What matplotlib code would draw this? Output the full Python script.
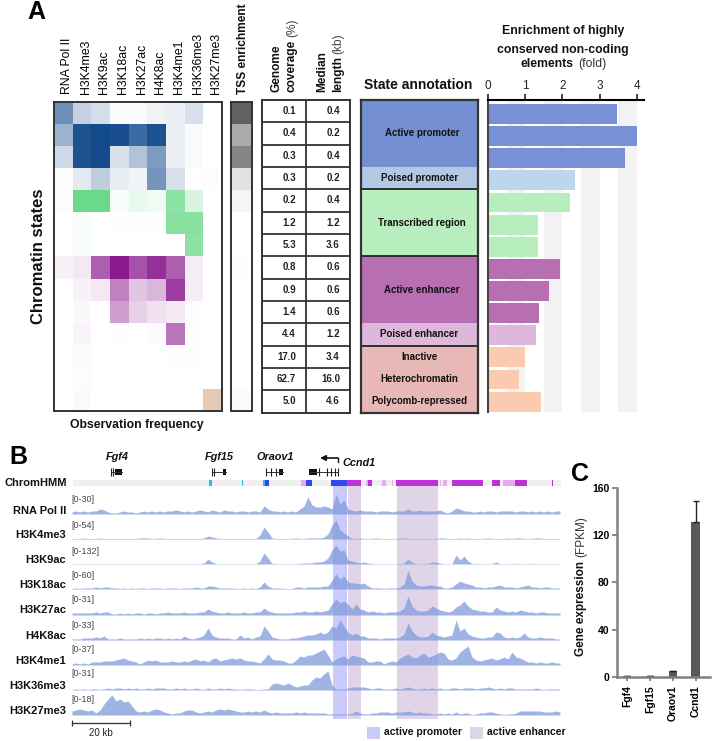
import numpy as np
import matplotlib
matplotlib.use("Agg")
import matplotlib.pyplot as plt
from matplotlib.colors import LinearSegmentedColormap
from matplotlib.patches import Rectangle

plt.rcParams['font.family'] = ['Liberation Sans', 'DejaVu Sans']

W, H = 713, 741
marks = ["RNA Pol II", "H3K4me3", "H3K9ac", "H3K18ac", "H3K27ac", "H4K8ac", "H3K4me1", "H3K36me3", "H3K27me3"]
freq_blue = [[.62, .25, .18, .03, .02, .07, .08, .17, 0],
             [.42, .95, 1, .97, .82, .95, .08, .03, 0],
             [.20, .95, 1, .17, .33, .55, .08, .03, 0],
             [.01, .12, .27, .10, .06, .58, .17, 0, .01]]
freq_green = [[.03, 1, 1, .05, .15, .10, .75, .25, 0],
              [0, .05, 0, .01, .01, .01, .80, .80, 0],
              [0, .04, 0, 0, 0, 0, 0, .75, 0]]
freq_purple = [[.06, .10, .70, 1, .75, .90, .70, .08, 0],
               [0, .06, .10, .55, .25, .32, .85, .08, 0],
               [0, .03, 0, .42, .20, .13, .09, .01, 0],
               [0, .05, 0, .01, 0, .02, .60, .01, 0]]
freq_beige = [[0, .07, 0, 0, 0, 0, .03, .01, 0],
              [0, .04, 0, 0, 0, 0, 0, 0, 0],
              [0, .10, 0, 0, 0, 0, 0, 0, 1]]
tss = [.62, .33, .48, .12, .04, 0, 0, .01, 0, 0, 0, 0, 0, .02]
coverage = ["0.1", "0.4", "0.3", "0.3", "0.2", "1.2", "5.3", "0.8", "0.9", "1.4", "4.4", "17.0", "62.7", "5.0"]
median_len = ["0.4", "0.2", "0.4", "0.2", "0.4", "1.2", "3.6", "0.6", "0.6", "0.6", "1.2", "3.4", "16.0", "4.6"]
enrichment = [3.48, 4.0, 3.7, 2.33, 2.2, 1.33, 1.33, 1.93, 1.63, 1.36, 1.28, 1.0, .83, 1.42]
bar_colors = ["#7891D6"] * 3 + ["#BDD6EE"] + ["#B8EDBE"] * 3 + ["#B86EB3"] * 3 + ["#DEB8DA"] + ["#FACBAE"] * 3
annot_names = ["Active promoter", "Poised promoter", "Transcribed region", "Active enhancer", "Poised enhancer",
               "Inactive", "Heterochromatin", "Polycomb-repressed"]
annot_rows = [3, 1, 3, 3, 1, 1, 1, 1]
annot_colors = ["#7590D2", "#B3C9E3", "#B8EDBE", "#B86EB3", "#DDB8DB", "#E8B8B6", "#E8B8B6", "#E8B8B6"]

track_names = marks
track_ranges = ["[0-30]", "[0-54]", "[0-132]", "[0-60]", "[0-31]", "[0-33]", "[0-37]", "[0-31]", "[0-18]"]
track_rna = [2,3,2,3,2,3,3,5,4,2, 1,1,2,3,2,2,1,2,3,2, 3,2,3,2,3,3,4,3,2,3, 2,3,4,3,2,4,3,2,4,3,
             3,2,3,3,2,3,3,2,8,5, 3,3,2,3,2,3,2,5,8,17, 9,7,7,8,7,5,20,10,14,5, 4,3,4,3,3,3,2,3,3,3,
             2,3,3,3,5,3,3,4,3,3, 3,3,4,2,1,3,6,5,3,3, 2,2,3,2,3,3,2,3,3,3, 3,2,3,3,2,3,2,3,2,3, 2,3,3]
track_k4me3 = [.5,.5,.5,1,.5,.5,.5,1,.5,.5, .5,.5,.5,.5,.5,.5,.5,1,1,1, .5,.5,1,.5,.5,.5,.5,.5,.5,.5, .5,.5,.5,1,3,2,1,.5,.5,.5,
               .5,.5,.5,.5,.5,.5,.5,4,12,7, 1,.5,.5,.5,.5,.5,1,.5,.5,1, 1,1,1,2,5,14,19,9,6,3, .5,.5,1,.5,.5,.5,1,.5,.5,.5,
               .5,.5,1,1,.5,.5,.5,.5,.5,.5, .5,.5,1,1,.5,.5,.5,1,.5,1, .5,.5,.5,.5,1,.5,.5,.5,.5,1, .5,1,1,.5,.5,.5,1,1,.5,.5, .5,.5,.5]
track_k9ac = [.3,.3,.3,.3,.3,.3,.3,.3,.3,.3, .3,.3,.3,.3,.3,.3,.3,.3,.3,.3, .3,.3,.3,.3,.3,.3,.3,.3,.3,.3, .3,.3,.3,1,5,2,.5,.3,.3,.3,
              .3,.3,.3,.3,.3,.3,.3,3,11,6, .5,.3,.3,.3,.3,.3,.5,.5,1,1, 1,2,2,3,6,14,19,13,14,4, 3,2,1,2,1,.5,.3,.3,.3,.3,
              .3,.3,.3,1,5,2,.3,.3,.3,.5, 2,2,1,.3,.3,.3,9,4,8,3, .5,.5,.3,.3,.3,.3,2,.3,.3,.3, .3,.5,.3,.3,.3,.5,.3,.3,.3,.3, .3,.3,.3]
track_k18ac = [.5,1,.5,1,1,1,2,1,2,2, 1,1,.5,1,.5,1,.5,1,1,.5, 1,1,1,.5,1,1,1,.5,1,1, 1,2,1,1,3,3,2,1,1,1,
               1,.5,.5,1,.5,1,.5,2,7,3, 1,1,1,.5,.5,.5,2,2,1,2, 2,2,2,3,3,9,15,10,13,7, 6,6,5,6,3,1,1,1,.5,1,
               1,1,2,5,19,8,4,3,3,4, 4,3,3,1,1,2,5,8,6,5, 4,2,2,1,2,2,3,4,2,2, 2,1,2,3,4,2,2,1,2,2, 1,1,1]
track_k27ac = [2,2,2,2,2,2,3,2,3,3, 1,1,2,1,2,1,2,2,1,2, 2,1,2,2,3,2,2,2,3,2, 2,2,3,3,6,4,3,2,2,3,
               2,2,2,3,2,2,3,3,7,4, 3,2,2,2,2,2,3,3,4,3, 3,4,3,4,5,11,16,12,14,11, 6,11,6,5,3,4,3,3,2,3,
               3,3,4,7,19,9,5,4,4,5, 9,7,5,4,3,4,8,10,14,9, 6,5,4,4,3,3,8,5,4,3, 4,3,5,4,3,3,2,3,3,2, 2,2,2]
track_k4ac = [1,1,1,2,2,2,3,2,4,1, 1,1,2,1,1,1,1,2,1,2, 1,2,2,1,2,1,2,1,4,2, 1,2,3,5,12,5,3,2,2,2,
              1,1,5,2,3,1,3,4,14,9, 3,2,1,1,1,2,2,3,4,5, 5,6,8,6,8,14,12,20,14,8, 5,7,4,4,2,2,2,1,2,2,
              2,2,3,6,17,9,5,3,3,4, 8,5,4,3,4,5,20,9,12,6, 4,3,2,2,3,3,8,7,3,2, 3,2,3,7,3,2,2,3,2,2, 2,1,1]
track_k4me1 = [1,2,1,2,1,3,3,3,4,4, 4,5,6,7,5,4,3,1,3,5, 4,5,3,3,3,4,3,3,4,3, 5,6,4,5,3,6,7,4,5,6,
               7,6,7,5,4,4,3,2,6,11, 6,5,5,4,2,2,5,9,8,10, 10,12,14,16,10,3,6,8,9,6, 10,9,8,7,3,3,4,4,1,3,
               4,3,7,9,11,8,7,10,12,8, 9,11,13,12,6,5,7,13,16,19, 8,5,4,5,6,7,5,6,8,6, 13,8,7,5,3,3,2,3,2,2, 3,2,2]
track_k36me3 = [.5,1,.5,1,.5,1,1,.5,1,2, 1,2,2,1,2,1,2,1,1,2, 1,2,2,2,1,1,2,1,2,1, 1,2,1,.5,2,1,1,2,1,2,
                1,1,.5,1,1,1,.5,.5,1,1, 6,7,6,5,7,5,3,4,5,5, 10,13,12,16,19,5,1,1,1,2, 3,3,3,3,2,1,2,2,1,1,
                1,2,1,2,3,2,1,1,2,1, 2,1,2,1,1,2,2,1,2,2, 2,1,2,2,3,2,1,2,1,2, 2,1,1,1,1,1,2,1,.5,1, 1,1,1]
track_k27me3 = [4,5,6,5,4,5,2,5,11,16, 20,14,16,13,14,9,4,3,4,3, 5,6,5,3,2,1,2,2,4,5, 5,3,2,3,4,3,5,6,5,6,
                5,4,3,3,4,3,4,3,5,3, 2,3,2,2,2,2,3,2,3,2, 2,2,2,2,1,1,1,1,1,1, 2,4,2,1,1,2,2,3,3,3,
                2,3,3,3,4,3,2,3,2,2, 1,1,2,1,2,1,3,1,2,2, .5,1,2,2,3,3,2,1,.5,1, 1,2,4,4,4,4,4,4,3,3, 3,4,3]
track_values = [track_rna, track_k4me3, track_k9ac, track_k18ac, track_k27ac, track_k4ac,
                track_k4me1, track_k36me3, track_k27me3]

hmm_start = [209, 242, 263, 265, 301, 306, 331, 347, 366, 368, 382, 392, 396, 440, 443, 452, 492, 503, 515, 552]
hmm_end   = [212, 243, 265, 269, 306, 312, 347, 361, 368, 372, 386, 393, 438, 441, 447, 483, 500, 515, 527, 553]
hmm_state = ["c", "c", "c", "b", "l", "b", "b", "m", "l", "m", "l", "l", "m", "l", "l", "m", "m", "l", "m", "m"]
hmm_colors = {"c": "#22BEF0", "b": "#2F48F0", "m": "#C030D8", "l": "#E6ACF2"}

genes = ["Fgf4", "Fgf15", "Oraov1", "Ccnd1"]
expression = [.8, .7, 4.5, 131]
expression_err = [0, 0, 0, 18]


def ax_px(x0, y0, x1, y1, **kw):
    return fig.add_axes([x0 / W, 1 - y1 / H, (x1 - x0) / W, (y1 - y0) / H], **kw)


def txt(x, y, s, **kw):
    kw.setdefault('ha', 'center')
    kw.setdefault('va', 'center')
    kw.setdefault('color', '#111111')
    return fig.text(x / W, 1 - y / H, s, **kw)


fig = plt.figure(figsize=(W / 100, H / 100), dpi=100)
bg = ax_px(0, 0, W, H)
bg.set_xlim(0, W)
bg.set_ylim(H, 0)
bg.axis('off')

# --- heat map ---
ax = ax_px(54, 102, 222, 411)
groups = [(0, freq_blue, "#124A8C"), (4, freq_green, "#6BD98A"), (7, freq_purple, "#8B1A8E"), (11, freq_beige, "#E5C9B5")]
for start, rows, col in groups:
    grid = np.ma.masked_all((14, 9))
    grid[start:start + len(rows)] = np.array(rows)
    ax.imshow(grid, cmap=LinearSegmentedColormap.from_list("c", ["white", col]), vmin=0, vmax=1,
              aspect='auto', interpolation='nearest')
ax.set_xticks([])
ax.set_yticks([])
for s in ax.spines.values():
    s.set_linewidth(1.4)
    s.set_color('#333333')
for i, m in enumerate(marks):
    txt(67 + i * 18.65, 94, m, rotation=90, va='bottom', fontsize=8.8, color='black')

# --- TSS ---
ax = ax_px(231, 102, 252, 411)
ax.imshow(np.array(tss)[:, None], cmap=LinearSegmentedColormap.from_list("g", ["white", "#000000"]), vmin=0, vmax=1,
          aspect='auto', interpolation='nearest')
ax.set_xticks([])
ax.set_yticks([])
for s in ax.spines.values():
    s.set_linewidth(1.4)
    s.set_color('#333333')
txt(243, 94, "TSS enrichment", rotation=90, va='bottom', fontsize=8.6, fontweight='bold')

# --- table ---
ax = ax_px(262, 100, 350, 412.5)
ax.set_xlim(0, 2)
ax.set_ylim(14, 0)
ax.set_xticks([])
ax.set_yticks([])
for i in range(1, 14):
    ax.axhline(i, color='#333333', lw=1.3)
ax.axvline(1, color='#333333', lw=1.3)
for s in ax.spines.values():
    s.set_linewidth(1.4)
    s.set_color('#333333')
for i, (c, m) in enumerate(zip(coverage, median_len)):
    ax.text(0.77, i + .5, c, ha='right', va='center', fontsize=7, fontweight='bold', color='#222222')
    ax.text(1.77, i + .5, m, ha='right', va='center', fontsize=7, fontweight='bold', color='#222222')
txt(276, 92, "Genome", rotation=90, va='bottom', fontsize=8.6, fontweight='bold')
txt(292, 92, "coverage", rotation=90, va='bottom', fontsize=8.6, fontweight='bold')
txt(292, 37, "(%)", rotation=90, va='bottom', fontsize=8.6, color='#444444')
txt(322, 92, "Median", rotation=90, va='bottom', fontsize=8.6, fontweight='bold')
txt(338, 92, "length", rotation=90, va='bottom', fontsize=8.6, fontweight='bold')
txt(338, 54, "(kb)", rotation=90, va='bottom', fontsize=8.6, color='#444444')

# --- state annotation ---
ax = ax_px(361, 100, 478, 412.5)
ax.set_xlim(0, 1)
ax.set_ylim(14, 0)
ax.set_xticks([])
ax.set_yticks([])
top = 0
for name, n, col in zip(annot_names, annot_rows, annot_colors):
    ax.add_patch(Rectangle((0, top), 1, n, fc=col, ec='none'))
    ax.text(.52 if n == 3 else .5, top + n / 2, name, ha='center', va='center', fontsize=7, fontweight='bold', color='#111111')
    top += n
for y in (4, 7, 11):
    ax.axhline(y, color='#222222', lw=1.3)
for s in ax.spines.values():
    s.set_linewidth(1.6)
    s.set_color('#333333')
txt(418, 85, "State annotation", fontsize=10, fontweight='bold')

# --- enrichment bars ---
ax = ax_px(488.3, 100, 644, 412)
ax.set_xlim(0, 4.2)
ax.set_ylim(13.47, -.633)
for b0 in (.5, 1.5, 2.5, 3.5):
    ax.axvspan(b0, b0 + .5, color='#F2F2F2', lw=0, zorder=0)
ax.barh(range(14), enrichment, height=.9, color=bar_colors, zorder=2)
ax.xaxis.tick_top()
ax.set_xticks(range(5))
ax.tick_params(axis='x', length=4, width=1.2, pad=2, labelsize=8.5, color='#222222', labelcolor='#222222')
ax.set_yticks([])
ax.spines['right'].set_visible(False)
ax.spines['bottom'].set_visible(False)
ax.spines['top'].set_linewidth(1.5)
ax.spines['left'].set_linewidth(1.5)
ax.spines['left'].set_color('#444444')
txt(563, 31, "Enrichment of highly", fontsize=8.8, fontweight='bold')
txt(563, 49.5, "conserved non-coding", fontsize=8.8, fontweight='bold')
txt(547, 64, "elements", fontsize=8.8, fontweight='bold')
txt(592, 64, "(fold)", fontsize=8.8, color='#333333')

txt(36, 12, "A", fontsize=18, fontweight='bold', color='black')
txt(39, 256, "Chromatin states", rotation=90, fontsize=12, fontweight='bold')
txt(137, 425, "Observation frequency", fontsize=8.8, fontweight='bold')

# --- panel B ---
bg.add_patch(Rectangle((333, 485), 14, 234, fc="#C9CBFA", ec='none'))
bg.add_patch(Rectangle((347.7, 485), 13.5, 234, fc="#E0D4E9", ec='none'))
bg.add_patch(Rectangle((397, 485), 41, 234, fc="#E0D4E9", ec='none'))

bg.add_patch(Rectangle((73, 480), 488, 6, fc="#EFEFEF", ec='none'))
for a, b, st in zip(hmm_start, hmm_end, hmm_state):
    bg.add_patch(Rectangle((a, 480), b - a, 6, fc=hmm_colors[st], ec='none'))

baselines = [514, 539, 564, 589, 615, 640, 665, 690, 715]
label_y = [511, 535, 560, 585, 610, 636, 661, 686, 711]
range_y = [499, 525, 551, 576, 600, 625, 650, 674, 699]
for name, rng, vals, bl, ly, ry in zip(track_names, track_ranges, track_values, baselines, label_y, range_y):
    ax = ax_px(72, bl - 26, 560, bl, facecolor='none')
    ax.set_xlim(0, 488)
    ax.set_ylim(0, 26)
    ax.axis('off')
    ax.fill_between(np.arange(len(vals)) * 4, vals, 0, color="#7F9BDC", alpha=.75, lw=0)
    ax.axhline(.3, color="#A8B6D8", lw=.8)
    txt(66, ly, name, ha='right', fontsize=8, fontweight='bold')
    txt(71, ry, rng, ha='left', fontsize=6.5, color='#444444')

txt(67, 483, "ChromHMM", ha='right', fontsize=8, fontweight='bold')
txt(9, 457, "B", ha='left', fontsize=18, fontweight='bold', color='black')
for gx, gy, g in [(117, 457, "Fgf4"), (219, 457, "Fgf15"), (275, 457, "Oraov1"), (359, 463, "Ccnd1")]:
    txt(gx, gy, g, fontsize=7.8, fontweight='bold', style='italic')

# gene models
gene_spans = [(111, 122), (212, 226), (266, 283), (309, 338)]
gene_blocks = [(115, 122), (223, 226), (279, 283), (309, 317)]
gene_ticks = [[111, 113], [212, 214], [266, 271, 276], [319, 327, 331, 335, 338]]
for (a, b), (c, d), tk in zip(gene_spans, gene_blocks, gene_ticks):
    bg.plot([a, b], [471.5, 471.5], color='#333333', lw=.7)
    bg.add_patch(Rectangle((c, 468.5), d - c, 6, fc='#111111', ec='none'))
    bg.vlines(tk, 467.5, 475.5, color='#222222', lw=.8)
bg.plot([338, 338], [462, 458], color='#111111', lw=1)
bg.annotate("", xy=(320, 458), xytext=(338, 458), arrowprops=dict(arrowstyle='-|>', color='#111111', lw=1.2, shrinkA=0, shrinkB=0, mutation_scale=8))

# scale bar
bg.plot([72, 130], [722.6, 722.6], color='#333333', lw=.9)
bg.vlines([72, 130], 719.5, 726, color='#333333', lw=.9)
txt(101, 733, "20 kb", fontsize=7, color='#222222')

# legend
bg.add_patch(Rectangle((367, 727), 13, 12, fc="#C9CBFA", ec='none'))
bg.add_patch(Rectangle((470, 727), 13, 12, fc="#E0D4E9", ec='none'))
txt(384, 732, "active promoter", ha='left', fontsize=7.5, fontweight='bold')
txt(487, 732, "active enhancer", ha='left', fontsize=7.5, fontweight='bold')

# --- panel C ---
ax = ax_px(617, 488, 710, 676.7)
ax.set_facecolor('none')
ax.set_xlim(-.435, 3.61)
ax.set_ylim(0, 160)
ax.bar(range(4), expression, width=.39, color='#595959')
ax.errorbar(range(4), expression, yerr=[[0] * 4, expression_err], fmt='none', ecolor='#222222', elinewidth=1, capsize=2.5, capthick=1)
ax.set_xticks(range(4))
ax.set_xticklabels(genes, rotation=90, fontsize=7.5, fontweight='bold')
ax.set_yticks([0, 40, 80, 120, 160])
ax.tick_params(axis='y', labelsize=7.5, length=3.5, width=1.3, color='#808080', pad=2)
ax.tick_params(axis='x', length=3, width=1.3, color='#808080', pad=3)
for lab in ax.get_yticklabels():
    lab.set_fontweight('bold')
ax.spines['top'].set_visible(False)
ax.spines['right'].set_visible(False)
ax.spines['left'].set_color('#808080')
ax.spines['bottom'].set_color('#808080')
ax.spines['left'].set_linewidth(1.8)
ax.spines['bottom'].set_linewidth(1.8)
txt(580, 474, "C", fontsize=18, fontweight='bold', color='black')
txt(581, 656, "Gene expression", rotation=90, va='bottom', fontsize=8.5, fontweight='bold')
txt(581, 557, "(FPKM)", rotation=90, va='bottom', fontsize=8.5, color='#333333')

fig.savefig("out.png", dpi=100)
